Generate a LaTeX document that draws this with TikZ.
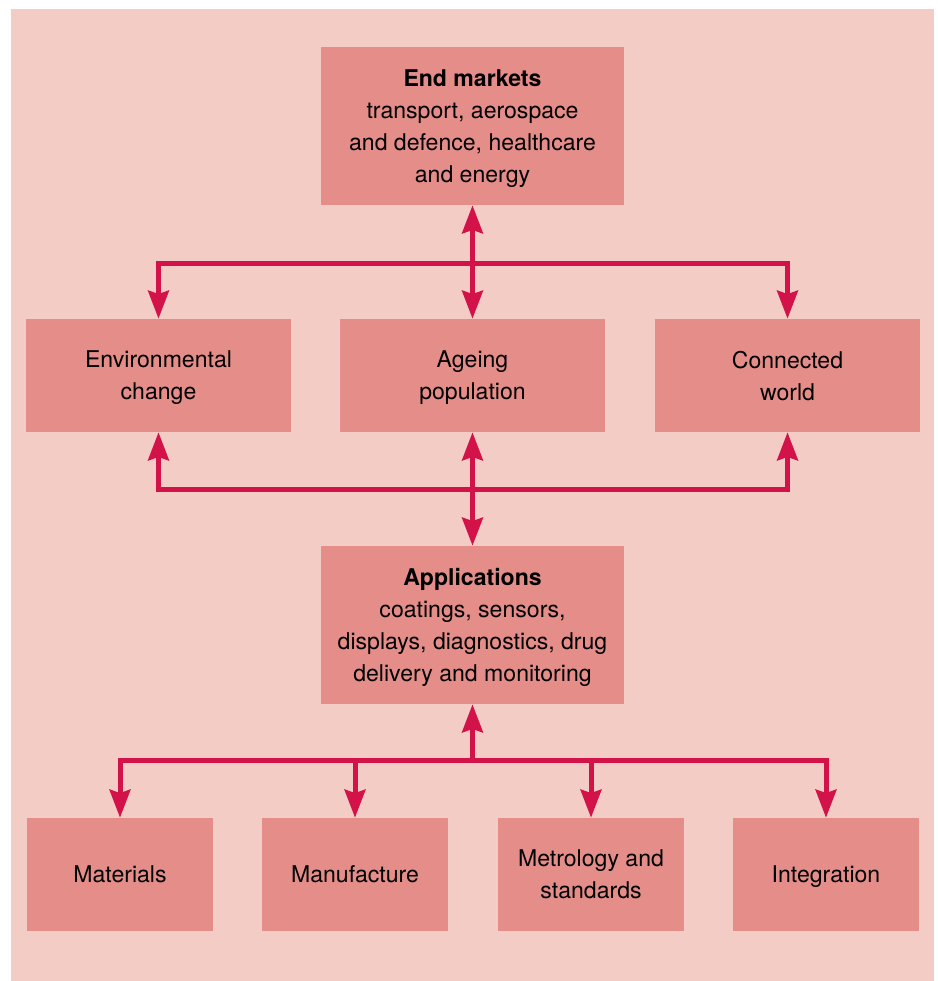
\documentclass[tikz,border=0pt]{standalone}
\usepackage{fontspec}
\setmainfont{TeX Gyre Heros}
\usetikzlibrary{arrows.meta}

\definecolor{bgpink}{HTML}{F2CCC5}
\definecolor{boxpink}{HTML}{E58D88}
\definecolor{linkred}{HTML}{D4124A}

\tikzset{
  box/.style={fill=boxpink, inner sep=0pt, align=center, text depth=0pt,
    font=\fontsize{17.3}{24}\selectfont},
  bigbox/.style={box, minimum width=227.25pt, minimum height=118.5pt},
  midbox/.style={box, minimum width=198.75pt, minimum height=84.75pt},
  lowbox/.style={box, minimum width=139.5pt, minimum height=84.75pt},
  tip/.tip={Stealth[length=21pt, width=15.5pt, inset=2.5pt]},
  link/.style={draw=linkred, line width=3.75pt, line join=miter, -tip},
  twolink/.style={link, tip-tip},
}

\begin{document}
\begin{tikzpicture}[x=0.75pt, y=-0.75pt]
\useasboundingbox (0,0) rectangle (938,981);
% Panel
\fill[bgpink] (11,9) rectangle (934,981);

% Boxes
\node[bigbox] (end) at (472.5,126) {\textbf{End markets}\\transport, aerospace\\and defence, healthcare\\and energy};
\node[midbox] (env) at (158.5,375.5) {Environmental\\change};
\node[midbox] (age) at (472.5,375.5) {Ageing\\population};
\node[midbox] (con) at (787.5,375.5) {Connected\\world};
\node[bigbox] (app) at (472.5,625) {\textbf{Applications}\\coatings, sensors,\\displays, diagnostics, drug\\delivery and monitoring};
\node[lowbox] (mat) at (120,874.5) {Materials};
\node[lowbox] (man) at (355,874.5) {Manufacture};
\node[lowbox] (met) at (591,874.5) {Metrology and\\standards};
\node[lowbox] (int) at (826,874.5) {Integration};

% Branch points
\coordinate (topfork) at (472.5,263);
\coordinate (midfork) at (472.5,489);
\coordinate (lowfork) at (472.5,760);

% Upper links
\draw[twolink] (end.south) -- (age.north);
\draw[link] (topfork) -| (env.north);
\draw[link] (topfork) -| (con.north);

% Middle links
\draw[twolink] (age.south) -- (app.north);
\draw[link] (midfork) -| (env.south);
\draw[link] (midfork) -| (con.south);

% Lower links
\draw[link] (lowfork) -- (app.south);
\draw[link] (lowfork) -| (mat.north);
\draw[link] (lowfork) -| (int.north);
\draw[link] (man.north |- lowfork) -- (man.north);
\draw[link] (met.north |- lowfork) -- (met.north);

\end{tikzpicture}
\end{document}
